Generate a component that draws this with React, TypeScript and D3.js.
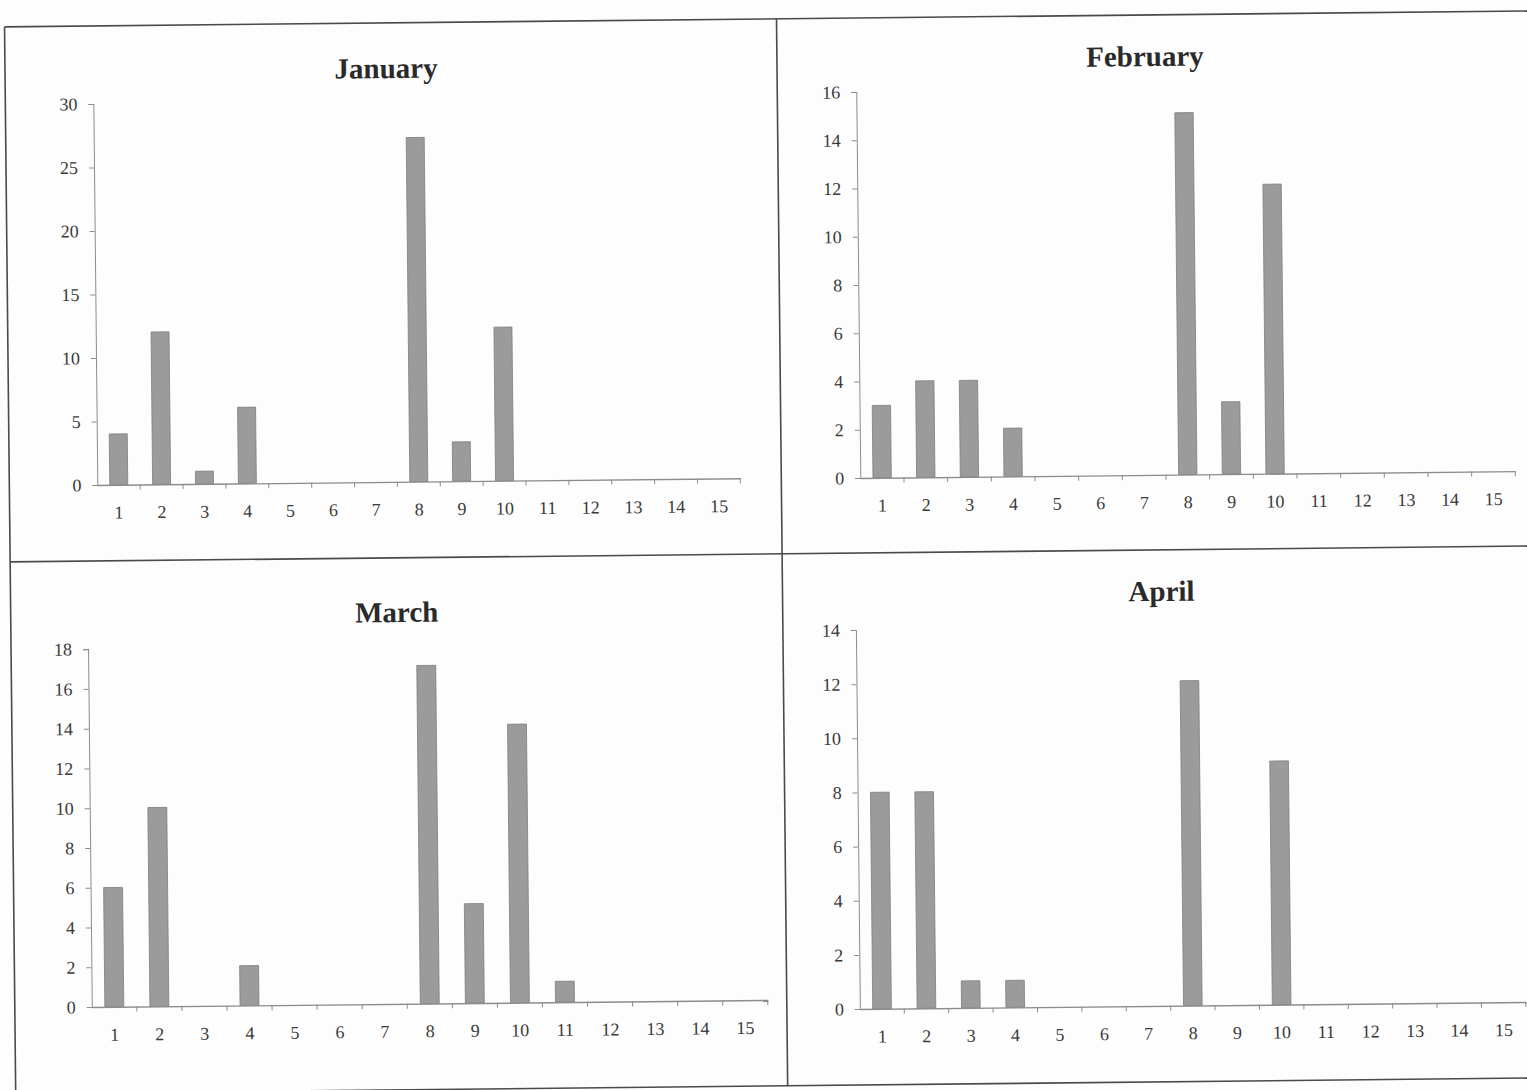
import { useEffect, useRef } from 'react';
import * as d3 from 'd3';

// monthly counts per item 1..15
const categories = ['1', '2', '3', '4', '5', '6', '7', '8', '9', '10', '11', '12', '13', '14', '15'];
const january = [4, 12, 1, 6, 0, 0, 0, 27.1, 3.1, 12.1, 0, 0, 0, 0, 0];
const february = [3, 4, 4, 2, 0, 0, 0, 15, 3, 12, 0, 0, 0, 0, 0];
const march = [6, 10, 0, 2, 0, 0, 0, 17, 5, 14, 1.05, 0, 0, 0, 0];
const april = [8, 8, 1, 1, 0, 0, 0, 12, 0, 9, 0, 0, 0, 0, 0];

const yTicksJan = [0, 5, 10, 15, 20, 25, 30];
const yTicksFeb = [0, 2, 4, 6, 8, 10, 12, 14, 16];
const yTicksMar = [0, 2, 4, 6, 8, 10, 12, 14, 16, 18];
const yTicksApr = [0, 2, 4, 6, 8, 10, 12, 14];

interface Panel {
  title: string;
  values: number[];
  ticks: number[];
  box: { left: number; right: number; top: number; bottom: number };
  titleX: number;
  titleY: number;
}

const panels: Panel[] = [
  { title: 'January', values: january, ticks: yTicksJan, box: { left: 98, right: 741, top: 97, bottom: 478 }, titleX: 391, titleY: 64 },
  { title: 'February', values: february, ticks: yTicksFeb, box: { left: 861, right: 1516, top: 93, bottom: 479 }, titleX: 1150, titleY: 60 },
  { title: 'March', values: march, ticks: yTicksMar, box: { left: 87, right: 763, top: 642, bottom: 1000 }, titleX: 396, titleY: 608 },
  { title: 'April', values: april, ticks: yTicksApr, box: { left: 855, right: 1521, top: 631, bottom: 1010 }, titleX: 1161, titleY: 595 },
];

const W = 1527;
const H = 1090;
const font = '"Liberation Serif", "Times New Roman", serif';
const axisColor = '#8c8c8c';
const textColor = '#3a3a3a';

export default function App() {
  const ref = useRef<SVGSVGElement | null>(null);

  useEffect(() => {
    if (!ref.current) return;
    const svg = d3.select(ref.current);
    svg.selectAll('*').remove();

    svg.append('rect').attr('width', W).attr('height', H).attr('fill', '#fdfdfd');

    // the scan is slightly tilted
    const page = svg.append('g').attr('transform', `rotate(-0.6, ${W / 2}, ${H / 2})`);

    // frame around the four charts
    const frame = page.append('g').attr('stroke', '#4a4a4a').attr('stroke-width', 1.6).attr('fill', 'none');
    frame.append('line').attr('x1', 10).attr('x2', 1545).attr('y1', 19).attr('y2', 19);
    frame.append('line').attr('x1', 10).attr('x2', 1545).attr('y1', 554).attr('y2', 554);
    frame.append('line').attr('x1', 10).attr('x2', 1545).attr('y1', 1086).attr('y2', 1086);
    frame.append('line').attr('x1', 10).attr('x2', 10).attr('y1', 19).attr('y2', 1086);
    frame.append('line').attr('x1', 782).attr('x2', 782).attr('y1', 19).attr('y2', 1086);

    panels.forEach(p => {
      const { left, right, top, bottom } = p.box;
      const x = d3.scaleBand<string>().domain(categories).range([left, right]).paddingInner(0.58).paddingOuter(0.29);
      const xb = d3.scaleBand<string>().domain(categories).range([left, right]);
      const y = d3.scaleLinear().domain([0, p.ticks[p.ticks.length - 1]]).range([bottom, top]);

      const g = page.append('g');

      g.append('text')
        .attr('x', p.titleX)
        .attr('y', p.titleY)
        .attr('dy', '0.35em')
        .attr('text-anchor', 'middle')
        .style('font-family', font)
        .style('font-size', '29px')
        .style('font-weight', 'bold')
        .style('fill', '#2a2a2a')
        .text(p.title);

      // bars
      g.append('g')
        .selectAll('rect')
        .data(p.values.map((v, i) => ({ cat: categories[i], v })).filter(d => d.v > 0))
        .enter()
        .append('rect')
        .attr('x', d => x(d.cat) as number)
        .attr('y', d => y(d.v))
        .attr('width', x.bandwidth())
        .attr('height', d => y(0) - y(d.v))
        .attr('fill', '#9b9b9b')
        .attr('stroke', '#7d7d7d')
        .attr('stroke-width', 0.8);

      // y axis
      const yAxis = g.append('g')
        .attr('transform', `translate(${left},0)`)
        .call(d3.axisLeft(y).tickValues(p.ticks).tickSize(5).tickPadding(11).tickFormat(d3.format('d')));
      yAxis.select('.domain').attr('stroke', axisColor);
      yAxis.selectAll('.tick line').attr('stroke', axisColor);
      yAxis.selectAll('.tick text')
        .style('font-family', font)
        .style('font-size', '18px')
        .style('fill', textColor);

      // x axis: labels centred, ticks on category boundaries
      const xAxis = g.append('g')
        .attr('transform', `translate(0,${bottom})`)
        .call(d3.axisBottom(xb).tickSize(0).tickPadding(21));
      xAxis.select('.domain').attr('stroke', axisColor).attr('stroke-width', 1.4);
      xAxis.selectAll('.tick text')
        .style('font-family', font)
        .style('font-size', '18px')
        .style('fill', textColor);

      g.append('g')
        .selectAll('line')
        .data(categories)
        .enter()
        .append('line')
        .attr('x1', d => (xb(d) as number) + xb.bandwidth())
        .attr('x2', d => (xb(d) as number) + xb.bandwidth())
        .attr('y1', bottom)
        .attr('y2', bottom + 5)
        .attr('stroke', axisColor);
    });
  }, []);

  return (
    <svg
      ref={ref}
      width={W}
      height={H}
      style={{ position: 'absolute', left: 0, top: 0, background: '#fff' }}
    />
  );
}
